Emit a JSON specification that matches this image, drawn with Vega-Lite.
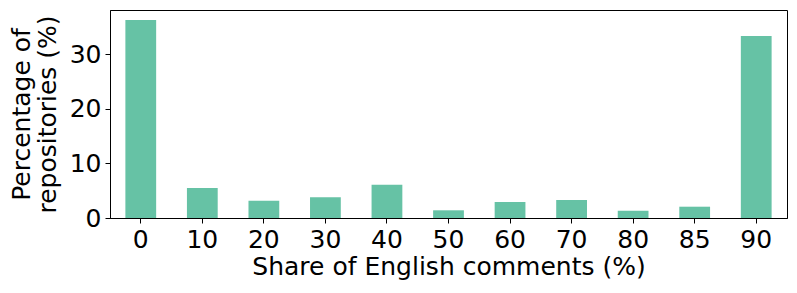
{
  "$schema": "https://vega.github.io/schema/vega-lite/v6.json",
  "autosize": {"type": "none"},
  "padding": {"left": 110, "top": 10, "right": 10, "bottom": 75},
  "width": 677,
  "height": 208,
  "data": {"values": [
    {"share": "0", "pct": 36.26},
    {"share": "10", "pct": 5.5},
    {"share": "20", "pct": 3.17},
    {"share": "30", "pct": 3.79},
    {"share": "40", "pct": 6.1},
    {"share": "50", "pct": 1.41},
    {"share": "60", "pct": 2.93},
    {"share": "70", "pct": 3.3},
    {"share": "80", "pct": 1.34},
    {"share": "85", "pct": 2.07},
    {"share": "90", "pct": 33.33}
  ]},
  "config": {
    "font": "DejaVu Sans",
    "view": {"stroke": "black", "strokeWidth": 1},
    "axis": {
      "labelFont": "DejaVu Sans", "titleFont": "DejaVu Sans",
      "labelFontSize": 25, "titleFontSize": 25,
      "labelColor": "black", "titleColor": "black",
      "titleFontWeight": "normal",
      "domainColor": "black", "tickColor": "black",
      "tickSize": 5, "grid": false
    }
  },
  "mark": {"type": "bar", "color": "#66c2a5"},
  "encoding": {
    "x": {
      "field": "share", "type": "ordinal",
      "sort": ["0","10","20","30","40","50","60","70","80","85","90"],
      "scale": {"paddingInner": 0.5, "paddingOuter": 0.25},
      "axis": {"title": "Share of English comments (%)", "labelAngle": 0, "labelPadding": 4, "titlePadding": 2}
    },
    "y": {
      "field": "pct", "type": "quantitative",
      "scale": {"domain": [0, 38.1], "nice": false},
      "axis": {"title": ["Percentage of", "repositories (%)"], "values": [0, 10, 20, 30], "labelPadding": 4, "titlePadding": 9, "titleLineHeight": 26}
    }
  }
}
